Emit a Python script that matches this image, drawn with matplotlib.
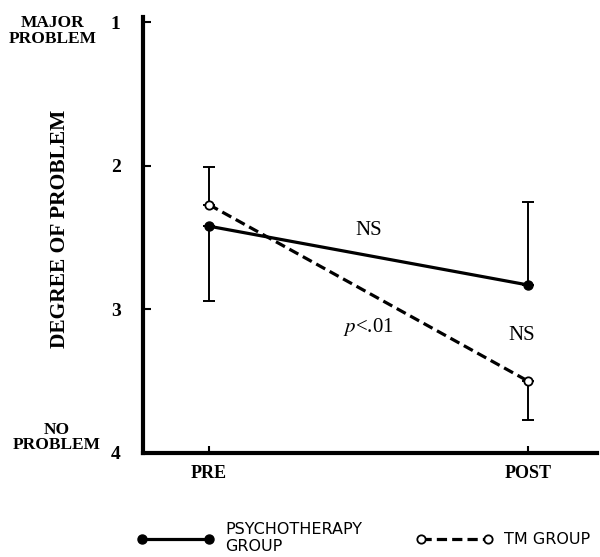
import matplotlib
matplotlib.use("Agg")
import matplotlib.pyplot as plt

plt.rcParams["mathtext.fontset"] = "stix"

# ── Data ────────────────────────────────────────────────────────────────────
phases = ["PRE", "POST"]
psy_mean = [2.42, 2.83]
psy_err_lo = [0.0, 0.58]   # toward smaller values (up on the chart)
psy_err_hi = [0.52, 0.0]   # toward larger values (down on the chart)
tm_mean = [2.27, 3.50]
tm_err_lo = [0.26, 0.0]
tm_err_hi = [0.0, 0.27]
yticks = [1, 2, 3, 4]

SERIF = "Liberation Serif"

fig = plt.figure(figsize=(6.0, 5.57), dpi=100)
ax = fig.add_axes([0.238, 0.187, 0.757, 0.783])

x = list(range(len(phases)))

ax.errorbar(x, psy_mean, yerr=[psy_err_lo, psy_err_hi], fmt="none",
            ecolor="black", elinewidth=1.4, capsize=4.5, capthick=1.4, zorder=2)
ax.errorbar(x, tm_mean, yerr=[tm_err_lo, tm_err_hi], fmt="none",
            ecolor="black", elinewidth=1.4, capsize=4.5, capthick=1.4, zorder=2)

ax.plot(x, psy_mean, "-", color="black", lw=2.3, marker="o", ms=6.5,
        mfc="black", mec="black", label="PSYCHOTHERAPY\nGROUP", zorder=3)
ax.plot(x, tm_mean, "--", color="black", lw=2.3, dashes=(3.2, 1.6),
        marker="o", ms=6, mfc="white", mec="black", mew=1.3,
        label="TM GROUP", zorder=4)

ax.set_xlim(-0.207, 1.216)
ax.set_ylim(4, 0.96)

for s in ["top", "right"]:
    ax.spines[s].set_visible(False)
for s in ["left", "bottom"]:
    ax.spines[s].set_linewidth(3)

ax.set_yticks(yticks)
ax.set_yticklabels([str(v) for v in yticks], fontfamily=SERIF,
                   fontweight="bold", fontsize=14)
ax.tick_params(axis="y", direction="in", length=6, width=1.5, pad=16)
ax.set_xticks(x)
ax.set_xticklabels(phases, fontfamily=SERIF, fontweight="bold", fontsize=13)
ax.tick_params(axis="x", direction="in", length=5, width=1.5, pad=9)

ax.set_ylabel("DEGREE OF PROBLEM", fontfamily=SERIF, fontweight="bold",
              fontsize=15.5)
ax.yaxis.set_label_coords(-0.16, 0.514)

fig.text(0.088, 0.944, "MAJOR\nPROBLEM", ha="center", va="center",
         fontfamily=SERIF, fontweight="bold", fontsize=12.5, linespacing=0.95)
fig.text(0.094, 0.215, "NO\nPROBLEM", ha="center", va="center",
         fontfamily=SERIF, fontweight="bold", fontsize=12.5, linespacing=0.95)

ax.text(0.5, 2.45, "NS", ha="center", va="center", fontfamily=SERIF, fontsize=15)
ax.text(0.98, 3.18, "NS", ha="center", va="center", fontfamily=SERIF, fontsize=15)
ax.text(0.5, 3.12, r"$p$<.01", ha="center", va="center", fontfamily=SERIF,
        fontsize=15)

leg = fig.legend(loc="upper left", bbox_to_anchor=(0.205, 0.088), ncol=2,
                 numpoints=2, frameon=False, handlelength=4.8,
                 columnspacing=3.4, handletextpad=0.7,
                 prop={"family": "DejaVu Sans", "size": 11.5})
for t in leg.get_texts():
    t.set_linespacing(1.15)

fig.savefig("out.png", dpi=100)
